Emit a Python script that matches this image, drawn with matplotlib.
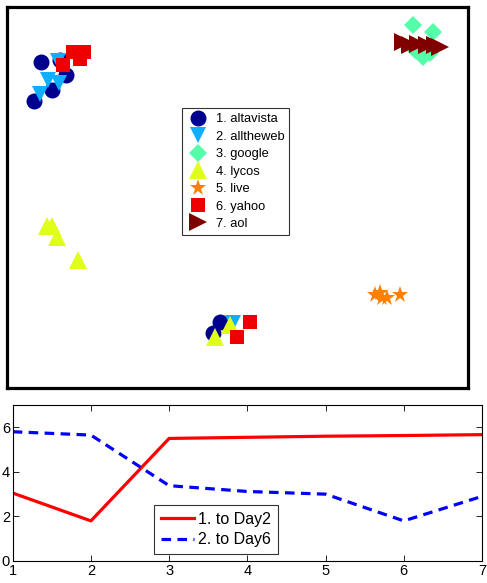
import matplotlib.pyplot as plt

plt.rcParams['font.family'] = ['Liberation Sans', 'DejaVu Sans']

# 2-D layout of the engines (arbitrary units, y grows downward)
engines = ['1. altavista', '2. alltheweb', '3. google', '4. lycos', '5. live', '6. yahoo', '7. aol']
colors = ['#00008F', '#10AEFF', '#55FFAA', '#DFFF1A', '#FF8000', '#EE0000', '#800000']
markers = ['o', 'v', 'D', '^', '*', 's', '>']
msizes = [11.5, 12, 9, 12.5, 12.5, 9.8, 12.5]

altavista_x = [41, 60, 66, 52, 34, 220, 213]
altavista_y = [62, 60, 75, 90, 101, 322, 333]
alltheweb_x = [48, 59, 40, 58, 233]
alltheweb_y = [80, 83, 94, 61, 323]
google_x = [413, 433, 430, 415, 423]
google_y = [25, 32, 53, 50, 57]
lycos_x = [47, 52, 57, 78, 230, 215]
lycos_y = [226, 226, 237, 260, 325, 337]
live_x = [380, 375, 387, 400, 382]
live_y = [293, 295, 298, 295, 298]
yahoo_x = [63, 73, 80, 84, 250, 237]
yahoo_y = [65, 52, 59, 52, 322, 337]
aol_x = [403, 410, 418, 427, 435, 440]
aol_y = [42, 45, 44, 45, 45, 47]

xs = [altavista_x, alltheweb_x, google_x, lycos_x, live_x, yahoo_x, aol_x]
ys = [altavista_y, alltheweb_y, google_y, lycos_y, live_y, yahoo_y, aol_y]

# day-to-day distances
days = [1, 2, 3, 4, 5, 6, 7]
to_day2 = [3.05, 1.8, 5.5, 5.55, 5.6, 5.63, 5.67]
to_day6 = [5.8, 5.65, 3.38, 3.12, 3.0, 1.8, 2.9]

fig = plt.figure(figsize=(4.87, 5.83), dpi=100)

ax = fig.add_axes([6.5 / 487, (583 - 388) / 583, 462 / 487, 381 / 583])
for name, c, m, s, x, y in zip(engines, colors, markers, msizes, xs, ys):
    ax.plot(x, y, linestyle='none', marker=m, color=c, markersize=s,
            markeredgewidth=0, label=name)
ax.set_xlim(6.5, 468.5)
ax.set_ylim(388, 7)
ax.set_xticks([])
ax.set_yticks([])
for sp in ax.spines.values():
    sp.set_linewidth(2.3)
leg = ax.legend(loc='center', bbox_to_anchor=(0.496, 0.568), fontsize=9.3,
                frameon=True, fancybox=False, edgecolor='black',
                handletextpad=0.5, borderpad=0.4, labelspacing=0.42,
                handlelength=1.7)
leg.get_frame().set_linewidth(0.8)

ax2 = fig.add_axes([12.7 / 487, (583 - 561) / 583, 469.3 / 487, 156 / 583])
ax2.plot(days, to_day2, color='#FF0000', linewidth=2.3, label='1. to Day2')
ax2.plot(days, to_day6, color='#0000FF', linewidth=2.3, linestyle=(0, (3, 2)),
         label='2. to Day6')
ax2.set_xlim(1, 7)
ax2.set_ylim(0, 7)
ax2.set_xticks(days)
ax2.set_yticks([0, 2, 4, 6])
ax2.tick_params(direction='in', length=4, width=0.6, labelsize=10.5,
                top=True, right=True, pad=2)
for sp in ax2.spines.values():
    sp.set_linewidth(0.8)
leg2 = ax2.legend(loc='center', bbox_to_anchor=(0.433, 0.203), fontsize=11.5,
                  frameon=True, fancybox=False, edgecolor='black',
                  handlelength=2.1, handletextpad=0.25, borderpad=0.4,
                  labelspacing=0.35)
leg2.get_frame().set_linewidth(0.8)

fig.savefig('out.png', dpi=100)
